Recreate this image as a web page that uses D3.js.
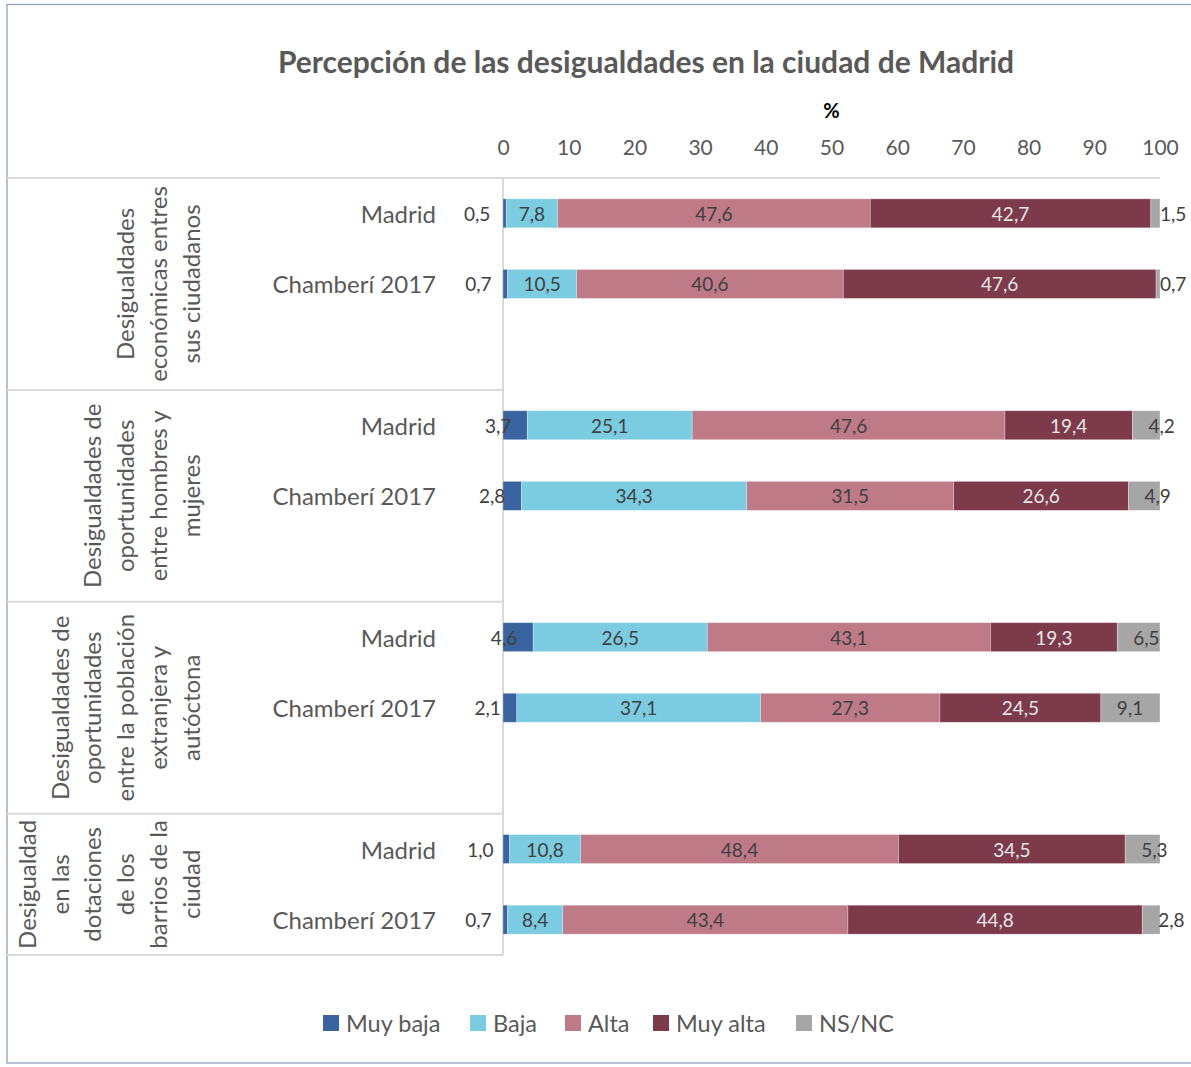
<!DOCTYPE html>
<html>
<head>
<meta charset="utf-8">
<script src="https://cdn.jsdelivr.net/npm/d3@7"></script>
<style>
  html, body { margin: 0; padding: 0; background: #fff; }
  svg { display: block; }
  text { font-family: Lato, "Open Sans", sans-serif; }
</style>
</head>
<body>
<svg id="chart" width="1191" height="1067"></svg>
<script>
// ---- data ----
const title = "Percepción de las desigualdades en la ciudad de Madrid";
const axisTitle = "%";
const groupLabels = [
  ["Desigualdades", "económicas entres", "sus ciudadanos"],
  ["Desigualdades de", "oportunidades", "entre hombres y", "mujeres"],
  ["Desigualdades de", "oportunidades", "entre la población", "extranjera y", "autóctona"],
  ["Desigualdad", "en las", "dotaciones", "de los", "barrios de la", "ciudad"]
];
const rowLabels = ["Madrid", "Chamberí 2017"];
const seriesNames = ["Muy baja", "Baja", "Alta", "Muy alta", "NS/NC"];
const muyBaja = [0.5, 0.7, 3.7, 2.8, 4.6, 2.1, 1.0, 0.7];
const baja    = [7.8, 10.5, 25.1, 34.3, 26.5, 37.1, 10.8, 8.4];
const alta    = [47.6, 40.6, 47.6, 31.5, 43.1, 27.3, 48.4, 43.4];
const muyAlta = [42.7, 47.6, 19.4, 26.6, 19.3, 24.5, 34.5, 44.8];
const nsnc    = [1.5, 0.7, 4.2, 4.9, 6.5, 9.1, 5.3, 2.8];
const tickValues = [0, 10, 20, 30, 40, 50, 60, 70, 80, 90, 100];

const colors = ["#3A64A0", "#7BCBE1", "#BF7A88", "#7D3A4B", "#A6A6A6"];
const labelColors = ["#404040", "#404040", "#404040", "#E6E6E6", "#404040"];

// ---- build rows ----
const seriesValues = [muyBaja, baja, alta, muyAlta, nsnc];
const rowKeys = [];
const rows = [];
groupLabels.forEach((g, gi) => {
  rowLabels.forEach((r, ri) => {
    const idx = gi * 2 + ri;
    const key = gi + "|" + r;
    rowKeys.push(key);
    let acc = 0;
    const segs = seriesValues.map((arr, si) => {
      const s = { series: si, value: arr[idx], x0: acc, x1: Math.min(100, acc + arr[idx]) };
      acc += arr[idx];
      return s;
    });
    rows.push({ key, label: r, group: gi, segs });
  });
  if (gi < groupLabels.length - 1) rowKeys.push(gi + "|gap");
});

const fmt = v => d3.format(".1f")(v).replace(".", ",");

const svg = d3.select("#chart");
const pL = 503, pR = 1160, pT = 178, pB = 955;

const x = d3.scaleLinear().domain([0, 100]).range([pL, pR]);
const y = d3.scaleBand().domain(rowKeys).range([pT, pB]).paddingInner(0.59).paddingOuter(0.295);

// outer frame
svg.append("rect").attr("x", 7).attr("y", 4.5).attr("width", 1200).attr("height", 1058.5)
  .attr("fill", "none").attr("stroke", "#8FA2C0").attr("stroke-width", 1.3);

// title
svg.append("text").attr("x", 646).attr("y", 61).attr("text-anchor", "middle")
  .attr("dominant-baseline", "central").attr("font-weight", "bold").attr("font-size", 30)
  .attr("fill", "#595959").text(title);

// axis title
svg.append("text").attr("x", x(50)).attr("y", 110).attr("text-anchor", "middle")
  .attr("dominant-baseline", "central").attr("font-weight", "bold").attr("font-size", 20)
  .attr("fill", "#000").text(axisTitle);

// top axis tick labels
const axis = d3.axisTop(x).tickValues(tickValues).tickSize(0).tickPadding(0).tickFormat(d3.format("d"));
const axG = svg.append("g").attr("transform", "translate(0,146)").call(axis);
axG.select(".domain").remove();
axG.selectAll("text").attr("font-size", 21).attr("fill", "#595959")
  .attr("font-family", "Lato, 'Open Sans', sans-serif").attr("dy", null)
  .attr("dominant-baseline", "central").attr("y", 0);

// table lines
const lineColor = "#D9D9D9";
const step = y.step();
svg.append("line").attr("x1", 7).attr("x2", pR).attr("y1", pT).attr("y2", pT)
  .attr("stroke", lineColor).attr("stroke-width", 2);
const groupTops = groupLabels.map((g, gi) => pT + gi * 3 * step);
groupTops.slice(1).concat([pB]).forEach(yy => {
  svg.append("line").attr("x1", 7).attr("x2", pL).attr("y1", yy).attr("y2", yy)
    .attr("stroke", lineColor).attr("stroke-width", 2);
});
svg.append("line").attr("x1", pL).attr("x2", pL).attr("y1", pT).attr("y2", pB)
  .attr("stroke", lineColor).attr("stroke-width", 2);

// group labels (rotated)
groupLabels.forEach((lines, gi) => {
  const y0 = groupTops[gi];
  const y1 = gi < groupLabels.length - 1 ? groupTops[gi + 1] : pB;
  const cy = (y0 + y1) / 2;
  const n = lines.length;
  lines.forEach((ln, li) => {
    const cx = 190 - (n - 1 - li) * 32.7;
    svg.append("text").attr("transform", `translate(${cx},${cy}) rotate(-90)`)
      .attr("text-anchor", "middle").attr("dominant-baseline", "central")
      .attr("font-size", 24).attr("fill", "#595959").text(ln);
  });
});

// row labels
svg.append("g").selectAll("text").data(rows).join("text")
  .attr("x", 436).attr("y", d => y(d.key) + y.bandwidth() / 2)
  .attr("text-anchor", "end").attr("dominant-baseline", "central")
  .attr("font-size", 24).attr("fill", "#595959").text(d => d.label);

// bars
const barG = svg.append("g");
rows.forEach(r => {
  barG.selectAll(null).data(r.segs).join("rect")
    .attr("x", d => x(d.x0)).attr("y", y(r.key))
    .attr("width", d => Math.max(0, x(d.x1) - x(d.x0))).attr("height", y.bandwidth())
    .attr("fill", d => colors[d.series])
    .attr("stroke", "#ffffff").attr("stroke-opacity", 0.35).attr("stroke-width", 0.8);
});

// data labels
const lblG = svg.append("g");
rows.forEach(r => {
  const cy = y(r.key) + y.bandwidth() / 2;
  r.segs.forEach(s => {
    let tx, anchor;
    if (s.series === 0) { tx = x(s.x1) - 16; anchor = "end"; }
    else if (s.series === 4) { tx = Math.min(x(s.x0) + 16, pR); anchor = "start"; }
    else { tx = (x(s.x0) + x(s.x1)) / 2; anchor = "middle"; }
    lblG.append("text").attr("x", tx).attr("y", cy).attr("text-anchor", anchor)
      .attr("dominant-baseline", "central").attr("font-size", 19)
      .attr("fill", labelColors[s.series]).text(fmt(s.value));
  });
});

// legend
const legendItems = [
  { name: seriesNames[0], x: 323 },
  { name: seriesNames[1], x: 470 },
  { name: seriesNames[2], x: 565 },
  { name: seriesNames[3], x: 653 },
  { name: seriesNames[4], x: 796 }
];
const lg = svg.append("g");
legendItems.forEach((it, i) => {
  lg.append("rect").attr("x", it.x).attr("y", 1015).attr("width", 16).attr("height", 16)
    .attr("fill", colors[i]);
  lg.append("text").attr("x", it.x + 23).attr("y", 1023).attr("dominant-baseline", "central")
    .attr("font-size", 23.5).attr("fill", "#595959").text(it.name);
});
</script>
</body>
</html>
